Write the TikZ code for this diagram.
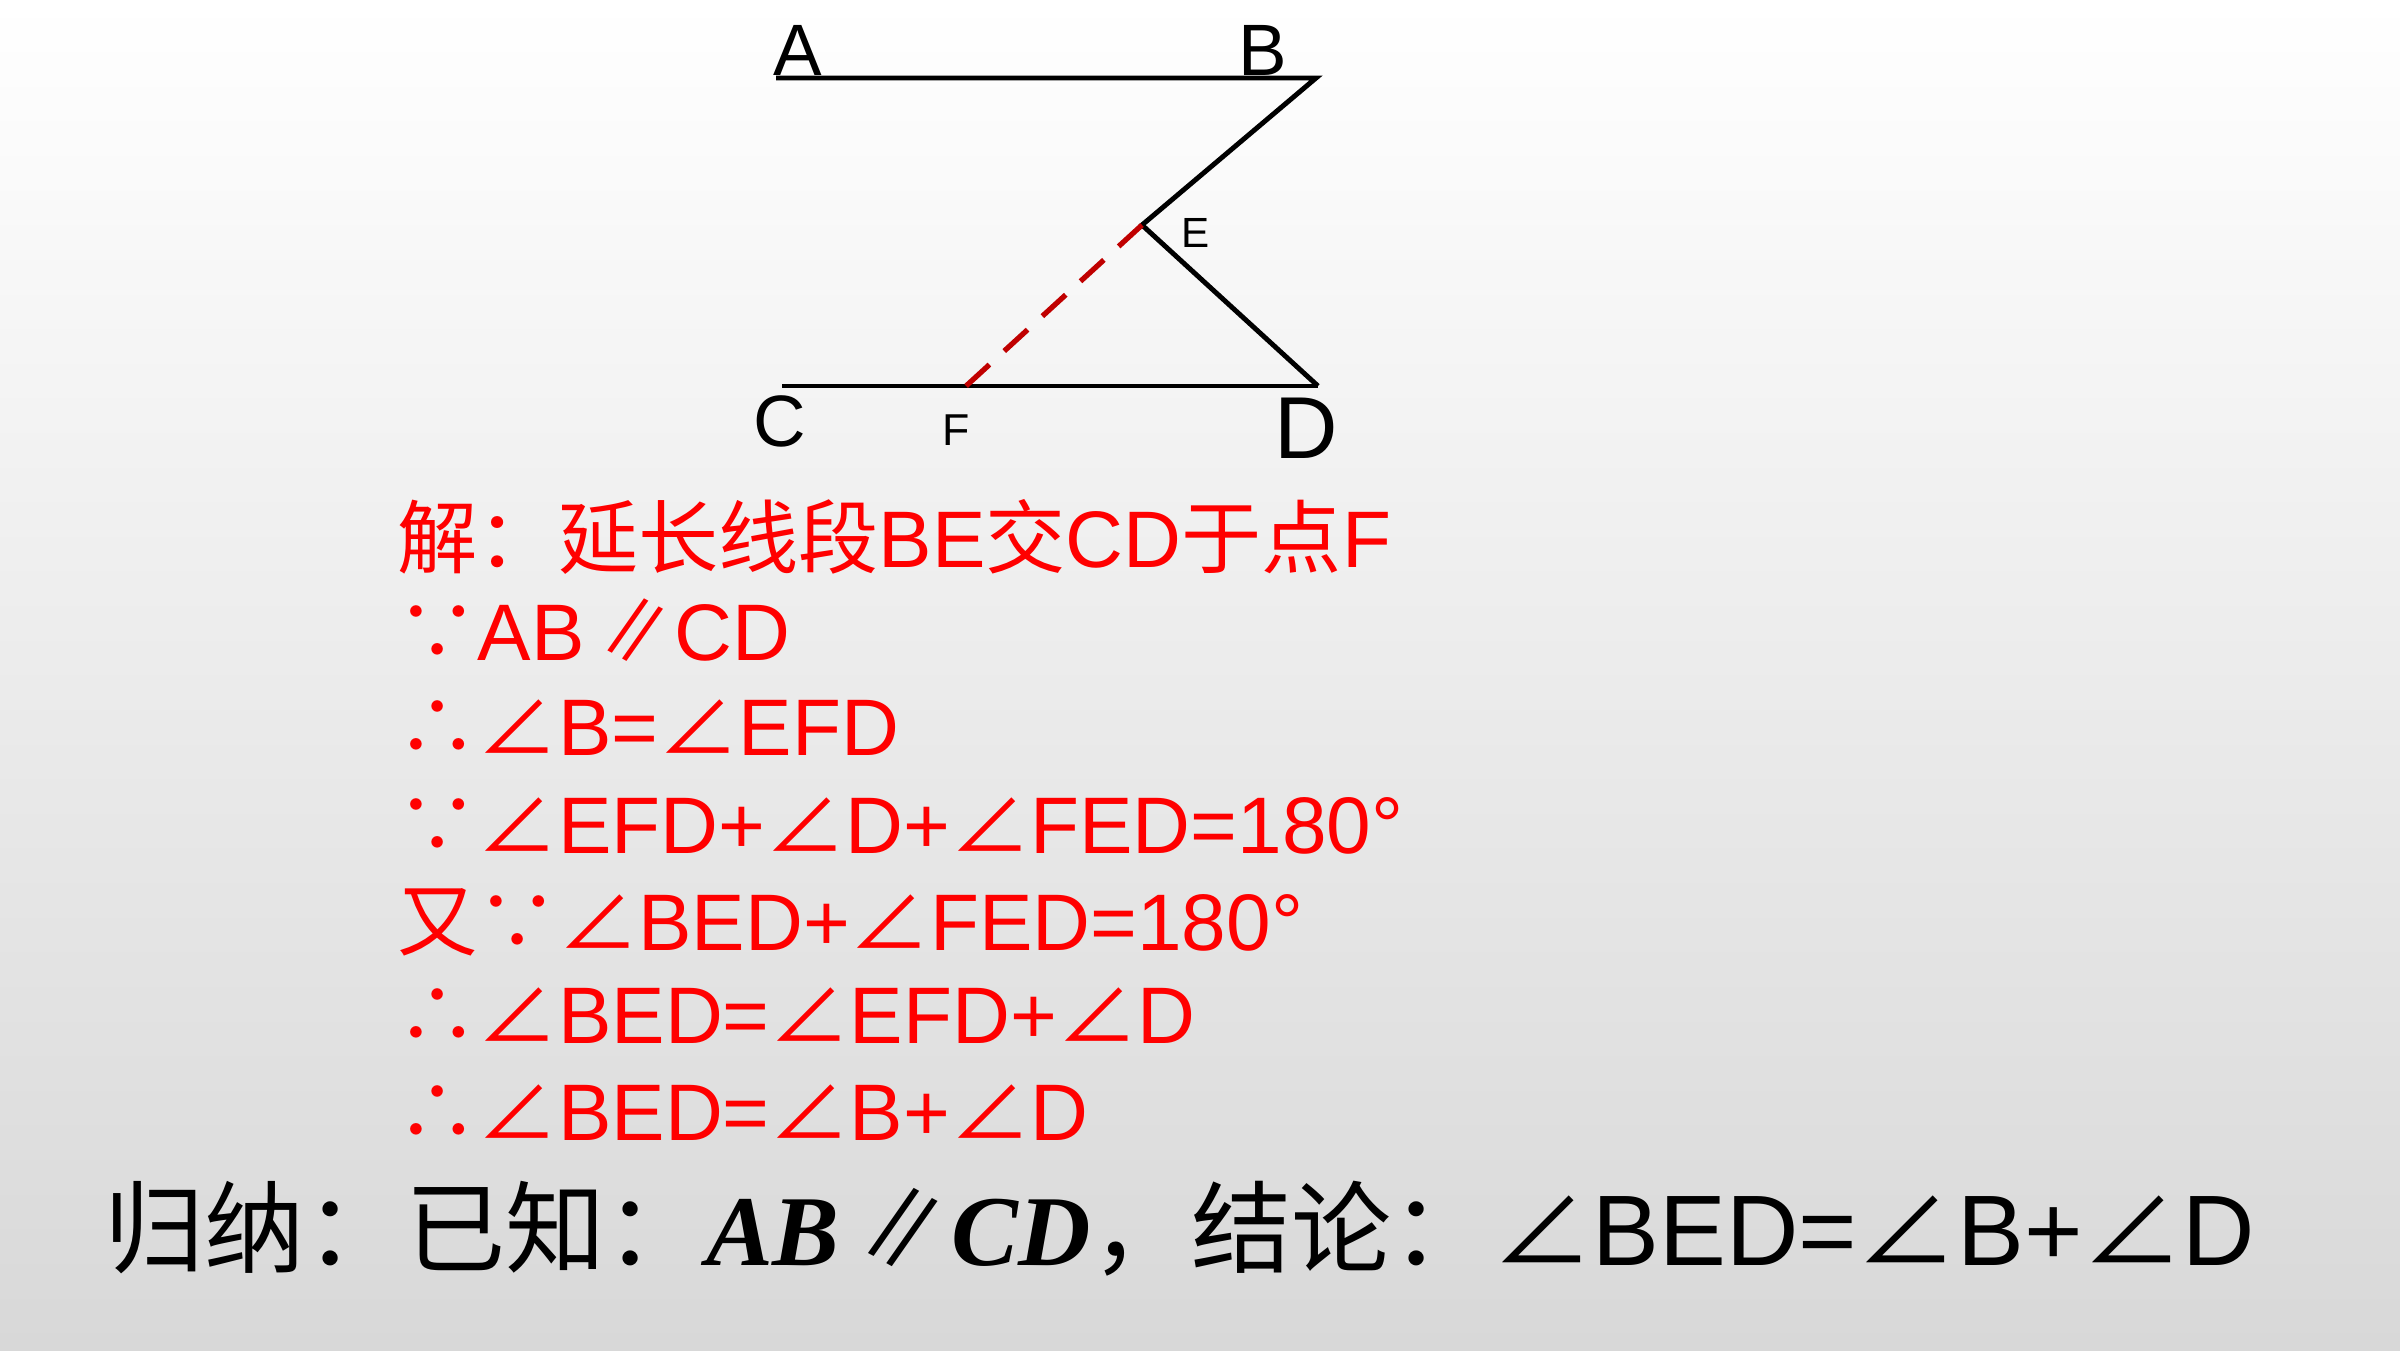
\documentclass[tikz,border=0pt]{standalone}
\usepackage{fontspec}
\setmainfont{Liberation Sans}
\newfontfamily\cjk{Noto Sans CJK SC}
\newfontfamily\cjkslant[FakeSlant=0.2]{Noto Sans CJK SC}
\newfontfamily\serifbi{Liberation Serif}
\usepackage{xcolor}
\definecolor{proofred}{RGB}{255,0,0}
\definecolor{extred}{RGB}{192,0,0}
\definecolor{bggray}{RGB}{216,216,216}
\newcommand{\angsym}{{\cjk ∠}}
\newcommand{\parsym}{{\kern0.06em\cjkslant ∥\kern0.06em}}

\begin{document}
\begin{tikzpicture}[x=0.01cm,y=-0.01cm,
    seg/.style={line width=1.4pt,black},
    ext/.style={line width=1.5pt,extred,dash pattern=on 9pt off 5.7pt},
    ptlabel/.style={anchor=base,inner sep=0pt,font=\fontsize{20.7}{24}\selectfont},
    proofline/.style={anchor=base west,inner sep=0pt,text=proofred,font=\fontsize{22.8}{27}\selectfont},
    summary/.style={anchor=base west,inner sep=0pt,text=black,font=\fontsize{28.5}{33}\selectfont}]

    % background
    \shade[top color=white,bottom color=bggray] (0,0) rectangle (2400,1350);
    \useasboundingbox (0,0) rectangle (2400,1350);

    % points of the figure
    \coordinate (A) at (776,78);
    \coordinate (B) at (1316,78);
    \coordinate (E) at (1142,225);
    \coordinate (C) at (782,386);
    \coordinate (F) at (966,386);
    \coordinate (D) at (1318,386);

    \draw[seg] (A) -- (B) -- (E) -- (D);
    \draw[seg] (C) -- (D);
    \draw[ext] (E) -- (F);

    \node[ptlabel] (labA) at (798,75) {A};
    \node[ptlabel] (labB) at (1263,75) {B};
    \node[ptlabel] (labC) at (780,446) {C};
    \node[ptlabel,font=\fontsize{25}{29}\selectfont] (labD) at (1306,458) {D};
    \node[ptlabel,font=\fontsize{12}{14}\selectfont] (labE) at (1196,247) {E};
    \node[ptlabel,font=\fontsize{12.7}{15}\selectfont] (labF) at (956,445) {F};

    % proof
    \node[proofline] (step1) at (397,567) {{\cjk 解：延长线段}BE{\cjk 交}CD{\cjk 于点}F};
    \node[proofline] (step2) at (397,660) {{\cjk ∵}AB\parsym CD};
    \node[proofline] (step3) at (397,755) {{\cjk ∴}\angsym B=\angsym EFD};
    \node[proofline] (step4) at (397,853) {{\cjk ∵}\angsym EFD+\angsym D+\angsym FED=180°};
    \node[proofline] (step5) at (397,950) {{\cjk 又∵}\angsym BED+\angsym FED=180°};
    \node[proofline] (step6) at (397,1043) {{\cjk ∴}\angsym BED=\angsym EFD+\angsym D};
    \node[proofline] (step7) at (397,1140) {{\cjk ∴}\angsym BED=\angsym B+\angsym D};

    % conclusion
    \node[summary] (concl) at (104,1265) {{\cjk 归纳：已知：}{\serifbi\bfseries\itshape AB}\parsym{\serifbi\bfseries\itshape CD}{\cjk ，结论：}\angsym BED=\angsym B+\angsym D};
\end{tikzpicture}
\end{document}
